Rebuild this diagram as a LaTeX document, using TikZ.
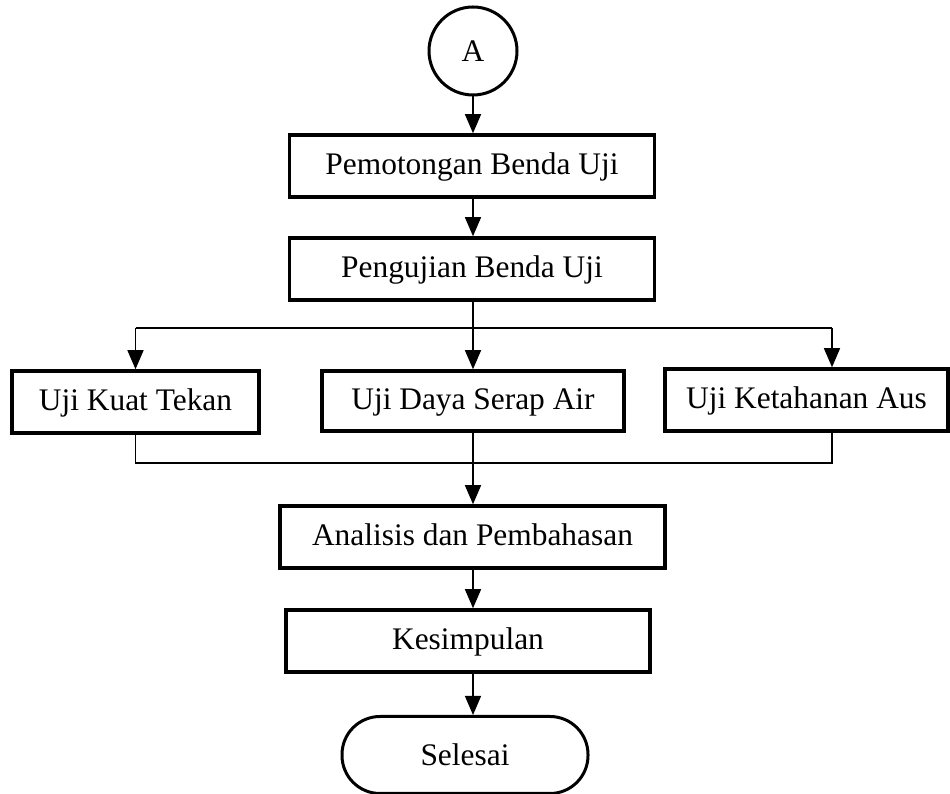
\documentclass[tikz,border=0pt]{standalone}
\usepackage{fontspec}
\setmainfont{Liberation Serif}
\usetikzlibrary{arrows.meta}
\tikzset{>={Triangle[width=16pt,length=19pt]}}
\tikzset{proses/.style={draw, line width=3.5pt, rectangle, minimum height=62pt, inner sep=0pt, text height=25pt, text depth=7pt},
  terminal/.style={draw, line width=3pt, rounded corners=38pt, minimum width=246pt, minimum height=77pt},
  konektor/.style={draw, line width=3pt, circle, minimum size=88pt, inner sep=0pt},
  garis/.style={line width=1.3pt}}

\begin{document}
\begin{tikzpicture}[x=1pt, y=1pt, font=\fontsize{31.4}{36}\selectfont]
\useasboundingbox (0,0) rectangle (950,794);
\node[konektor] (A) at (473,743) {A};
\node[proses, minimum width=365pt] (potong) at (472,628) {Pemotongan Benda Uji};
\node[proses, minimum width=365pt] (uji) at (472,525) {Pengujian Benda Uji};
\node[proses, minimum width=247pt] (kuat) at (135.5,392) {Uji Kuat Tekan};
\node[proses, minimum width=302pt, minimum height=60pt] (serap) at (473,393) {Uji Daya Serap Air};
\node[proses, minimum width=283pt] (aus) at (806.5,394) {Uji Ketahanan Aus};
\node[proses, minimum width=385pt] (analisis) at (472.5,257) {Analisis dan Pembahasan};
\node[proses, minimum width=364pt] (simpul) at (468,153) {Kesimpulan};
\node[terminal] (selesai) at (465,39) {Selesai};
\coordinate (cabangL) at (135.5,466);
\coordinate (cabangR) at (832,466);
\coordinate (gabungL) at (135.5,331);
\coordinate (gabungR) at (832,331);
\draw[garis, ->] (A.south) -- (A.south |- potong.north);
\draw[garis, ->] (A.south |- potong.south) -- (A.south |- uji.north);
\draw[garis, ->] (A.south |- uji.south) -- (A.south |- serap.north);
\draw[garis] (cabangL) -- (cabangR);
\draw[garis, ->] (cabangL) -- (kuat.north);
\draw[garis, ->] (cabangR) -- (cabangR |- aus.north);
\draw[garis] (kuat.south) -- (gabungL) -- (gabungR) -- (gabungR |- aus.south);
\draw[garis, ->] (A.south |- serap.south) -- (A.south |- analisis.north);
\draw[garis, ->] (A.south |- analisis.south) -- (A.south |- simpul.north);
\draw[garis, ->] (A.south |- simpul.south) -- (A.south |- selesai.north);
\end{tikzpicture}
\end{document}
